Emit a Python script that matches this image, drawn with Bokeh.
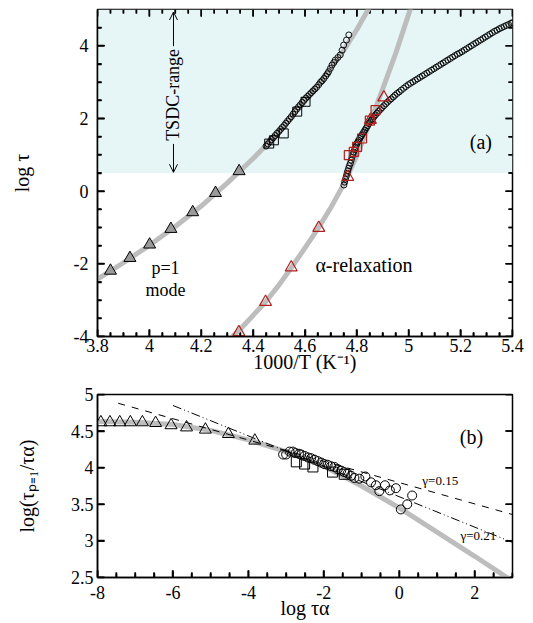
from math import pi
from bokeh.plotting import figure
from bokeh.layouts import column
from bokeh.models import Range1d, FixedTicker, BoxAnnotation, Label
from bokeh.embed import file_html
from bokeh.resources import INLINE

FONT = "Liberation Serif"

# ---------------- Panel (a) data ----------------
tsdc_range = [0.5, 5.0]
tsdc_arrow_x = 4.093
tsdc_arrow_up = [3.99, 4.93]     # shaft start, tip
tsdc_arrow_down = [1.30, 0.52]   # shaft start, tip

p1_fit_x = [3.80, 3.90, 4.00, 4.10, 4.20, 4.30, 4.40, 4.50, 4.60, 4.70, 4.75, 4.80, 4.85]
p1_fit_y = [-2.42, -1.97, -1.49, -0.97, -0.41, 0.22, 0.90, 1.63, 2.47, 3.38, 3.88, 4.45, 5.08]

p1_tri_x = [3.850, 3.925, 4.001, 4.083, 4.167, 4.255, 4.346]
p1_tri_y = [-2.19, -1.84, -1.47, -1.04, -0.58, -0.05, 0.55]

p1_sq_x = [4.462, 4.480, 4.518, 4.570, 4.602]
p1_sq_y = [1.31, 1.40, 1.59, 2.19, 2.46]

p1_circ_x = [4.450, 4.457, 4.464, 4.471, 4.478, 4.485, 4.492, 4.499, 4.506, 4.513,
             4.520, 4.526, 4.533, 4.540, 4.547, 4.554, 4.561, 4.568, 4.575, 4.582,
             4.589, 4.596, 4.603, 4.610, 4.617, 4.624, 4.631, 4.638, 4.645, 4.653,
             4.660, 4.666, 4.673, 4.680, 4.686, 4.691, 4.698, 4.704, 4.711, 4.717,
             4.727, 4.736, 4.743, 4.749, 4.760, 4.769]
p1_circ_y = [1.24, 1.30, 1.36, 1.42, 1.47, 1.53, 1.59, 1.64, 1.70, 1.76,
             1.81, 1.87, 1.93, 1.99, 2.05, 2.12, 2.19, 2.26, 2.32, 2.38,
             2.44, 2.50, 2.56, 2.61, 2.66, 2.71, 2.76, 2.81, 2.86, 2.93,
             3.00, 3.04, 3.10, 3.17, 3.23, 3.29, 3.38, 3.47, 3.54, 3.61,
             3.68, 3.75, 3.88, 4.02, 4.16, 4.30]

alpha_fit_x = [4.32, 4.35, 4.40, 4.45, 4.50, 4.55, 4.60, 4.65, 4.70, 4.75, 4.80,
               4.85, 4.90, 4.95, 5.00, 5.02]
alpha_fit_y = [-4.00, -3.80, -3.42, -3.03, -2.58, -2.08, -1.56, -1.03, -0.45, 0.20, 0.98,
               1.88, 2.82, 3.80, 4.88, 5.30]

alpha_tri_x = [4.345, 4.448, 4.547, 4.653, 4.765, 4.852, 4.904]
alpha_tri_y = [-3.88, -3.05, -2.10, -1.01, 0.39, 1.96, 2.58]

alpha_sq_x = [4.769, 4.788, 4.801, 4.820, 4.850, 4.872]
alpha_sq_y = [0.99, 1.08, 1.22, 1.45, 1.94, 2.23]

alpha_circ_x = [4.750, 4.753, 4.756, 4.759, 4.762, 4.765, 4.768, 4.771, 4.775, 4.778,
                4.781, 4.785, 4.788, 4.791, 4.794, 4.798, 4.801, 4.804, 4.807, 4.811,
                4.814, 4.818, 4.822, 4.827, 4.831, 4.836, 4.841, 4.846, 4.851, 4.856,
                4.861, 4.866, 4.872, 4.878, 4.884, 4.891, 4.897, 4.904, 4.911, 4.918,
                4.925, 4.932, 4.940, 4.947, 4.955, 4.963, 4.971, 4.980, 4.989, 4.998,
                5.007, 5.016, 5.025, 5.034, 5.043, 5.052, 5.061, 5.070, 5.079, 5.088,
                5.097, 5.106, 5.115, 5.124, 5.133, 5.142, 5.151, 5.160, 5.169, 5.178,
                5.187, 5.196, 5.205, 5.214, 5.223, 5.232, 5.241, 5.250, 5.259, 5.268,
                5.277, 5.286, 5.295, 5.304, 5.313, 5.322, 5.331, 5.340, 5.349, 5.358,
                5.367, 5.376, 5.385, 5.394, 5.400]
alpha_circ_y = [0.17, 0.25, 0.33, 0.41, 0.49, 0.56, 0.63, 0.70, 0.77, 0.85,
                0.93, 1.01, 1.08, 1.14, 1.20, 1.27, 1.32, 1.36, 1.40, 1.45,
                1.49, 1.53, 1.58, 1.63, 1.68, 1.74, 1.80, 1.86, 1.91, 1.96,
                2.00, 2.05, 2.10, 2.15, 2.20, 2.25, 2.30, 2.35, 2.40, 2.45,
                2.50, 2.54, 2.59, 2.64, 2.69, 2.73, 2.78, 2.83, 2.88, 2.93,
                2.97, 3.01, 3.05, 3.09, 3.13, 3.17, 3.21, 3.25, 3.29, 3.33,
                3.37, 3.41, 3.45, 3.49, 3.53, 3.57, 3.61, 3.65, 3.69, 3.73,
                3.77, 3.80, 3.84, 3.88, 3.92, 3.96, 4.00, 4.04, 4.08, 4.12,
                4.16, 4.20, 4.24, 4.28, 4.32, 4.36, 4.40, 4.43, 4.47, 4.50,
                4.53, 4.56, 4.59, 4.62, 4.64]

xa_major = [3.8, 4.0, 4.2, 4.4, 4.6, 4.8, 5.0, 5.2, 5.4]
xa_labels = ["3.8", "4", "4.2", "4.4", "4.6", "4.8", "5", "5.2", "5.4"]
xa_minor = [3.85, 3.9, 3.95, 4.05, 4.1, 4.15, 4.25, 4.3, 4.35, 4.45, 4.5, 4.55,
            4.65, 4.7, 4.75, 4.85, 4.9, 4.95, 5.05, 5.1, 5.15, 5.25, 5.3, 5.35]
ya_major = [-4, -2, 0, 2, 4]
ya_labels = ["-4", "-2", "0", "2", "4"]
ya_minor = [-3.5, -3, -2.5, -1.5, -1, -0.5, 0.5, 1, 1.5, 2.5, 3, 3.5, 4.5]

# ---------------- Panel (b) data ----------------
b_fit_x = [-8, -7, -6, -5, -4, -3, -2, -1, 0, 1, 2, 3]
b_fit_y = [4.63, 4.62, 4.59, 4.51, 4.38, 4.22, 4.02, 3.75, 3.45, 3.12, 2.79, 2.45]

b_tri_x = [-7.91, -7.67, -7.41, -7.13, -6.81, -6.46, -6.05, -5.64, -5.14, -4.53, -3.83]
b_tri_y = [4.62, 4.62, 4.62, 4.62, 4.62, 4.61, 4.58, 4.55, 4.52, 4.46, 4.37]

b_sq_x = [-2.73, -2.51, -2.29, -1.77, -1.46]
b_sq_y = [4.08, 4.05, 4.01, 3.94, 3.91]

b_circ_x = [-3.08, -3.00, -2.91, -2.82, -2.75, -2.66, -2.60, -2.51, -2.42, -2.34,
            -2.25, -2.16, -2.07, -1.99, -1.90, -1.81, -1.72, -1.63, -1.54, -1.46,
            -1.37, -1.28, -1.19, -1.06, -0.90, -0.75, -0.62, -0.53, -0.38, -0.25,
            -0.09, 0.04, 0.21, 0.34]
b_circ_y = [4.18, 4.18, 4.22, 4.22, 4.20, 4.19, 4.18, 4.16, 4.14, 4.13,
            4.11, 4.09, 4.07, 4.05, 4.04, 4.02, 4.01, 3.98, 3.96, 3.94,
            3.92, 3.89, 3.86, 3.85, 3.88, 3.80, 3.76, 3.68, 3.76, 3.69,
            3.72, 3.43, 3.50, 3.62]

g015_x = [-7.45, 3.0]
g015_y = [4.88, 3.36]
g021_x = [-6.0, 3.0]
g021_y = [4.85, 2.98]

xb_major = [-8, -6, -4, -2, 0, 2]
xb_labels = ["-8", "-6", "-4", "-2", "0", "2"]
xb_minor = [-7.5, -7, -6.5, -5.5, -5, -4.5, -3.5, -3, -2.5, -1.5, -1, -0.5,
            0.5, 1, 1.5, 2.5, 3]
yb_major = [2.5, 3.0, 3.5, 4.0, 4.5, 5.0]
yb_labels = ["2.5", "3", "3.5", "4", "4.5", "5"]

GRAY = "#bdbdbd"
RED = "#b0201c"
TICK_W = 1.5


def style_axis(ax, ticks, minor, labels, standoff, label, label_standoff):
    ax.ticker = FixedTicker(ticks=ticks, minor_ticks=minor)
    ax.major_label_overrides = dict(zip(ticks, labels))
    ax.axis_line_width = 1.5
    ax.axis_line_color = "black"
    ax.major_tick_in = 7
    ax.major_tick_out = 0
    ax.minor_tick_in = 4
    ax.minor_tick_out = 0
    ax.major_tick_line_color = "black"
    ax.minor_tick_line_color = "black"
    ax.major_tick_line_width = TICK_W
    ax.minor_tick_line_width = TICK_W
    ax.major_label_text_font = FONT
    ax.major_label_text_color = "black"
    ax.major_label_text_font_size = "18px"
    ax.major_label_standoff = standoff
    ax.axis_label = label
    ax.axis_label_text_font = FONT
    ax.axis_label_text_font_style = "normal"
    ax.axis_label_text_font_size = "20px"
    ax.axis_label_text_color = "black"
    ax.axis_label_standoff = label_standoff


def vticks(p, xs, y_edge, length_px, py):
    # inward tick marks on a horizontal frame edge (y_edge), drawn as segments
    # and as vertical dash markers centred half a tick inside the edge
    sign = 1 if y_edge == p.y_range.start else -1
    dy = sign * length_px * py
    p.segment(x0=xs, y0=[y_edge] * len(xs), x1=xs, y1=[y_edge + dy] * len(xs),
              line_color="black", line_width=TICK_W)
    p.scatter(x=xs, y=[y_edge + dy / 2] * len(xs), marker="dash", size=length_px,
              angle=pi / 2, line_color="black", line_width=TICK_W)


def hticks(p, ys, x_edge, length_px, px):
    # inward tick marks on a vertical frame edge (x_edge)
    sign = 1 if x_edge == p.x_range.start else -1
    dx = sign * length_px * px
    p.segment(x0=[x_edge] * len(ys), y0=ys, x1=[x_edge + dx] * len(ys), y1=ys,
              line_color="black", line_width=TICK_W)
    p.scatter(x=[x_edge + dx / 2] * len(ys), y=ys, marker="dash", size=length_px,
              line_color="black", line_width=TICK_W)


def lab(p, x, y, text, size="20px", align="center", baseline="middle", angle=0.0):
    p.add_layout(Label(x=x, y=y, text=text, text_font=FONT, text_font_size=size,
                       text_align=align, text_baseline=baseline, angle=angle,
                       text_color="black"))


# ---------------- Figure (a) ----------------
xa0, xa1, ya0, ya1 = 3.8, 5.4, -4, 5
pa = figure(width=533, height=380, x_range=Range1d(xa0, xa1), y_range=Range1d(ya0, ya1),
            output_backend="svg", toolbar_location=None,
            min_border_left=97, min_border_right=21, min_border_top=9, min_border_bottom=44)
pa.grid.visible = False
pa.outline_line_color = "black"
pa.outline_line_width = 1.5
style_axis(pa.xaxis[0], xa_major, xa_minor, xa_labels, 2, "1000/T (K⁻¹)", -4)
style_axis(pa.yaxis[0], ya_major, ya_minor, ya_labels, 9, "log τ", 38)

pa.add_layout(BoxAnnotation(bottom=tsdc_range[0], top=tsdc_range[1], fill_color="#e6f6f6",
                            fill_alpha=1.0, line_color=None, level="underlay"))

# tick marks on all four edges; frame is 415 x 327 px
pxa = (xa1 - xa0) / 415.0
pya = (ya1 - ya0) / 327.0
vticks(pa, xa_major, ya0, 7, pya)
vticks(pa, xa_minor, ya0, 4, pya)
vticks(pa, xa_major, ya1, 7, pya)
vticks(pa, xa_minor, ya1, 4, pya)
hticks(pa, ya_major, xa0, 7, pxa)
hticks(pa, ya_minor, xa0, 4, pxa)
hticks(pa, ya_major, xa1, 7, pxa)
hticks(pa, ya_minor, xa1, 4, pxa)

pa.line(p1_fit_x, p1_fit_y, line_color=GRAY, line_width=5)
pa.line(alpha_fit_x, alpha_fit_y, line_color=GRAY, line_width=5)

pa.scatter(p1_circ_x, p1_circ_y, marker="circle", size=6, fill_color=None,
           line_color="black", line_width=0.9)
pa.scatter(alpha_circ_x, alpha_circ_y, marker="circle", size=6, fill_color=None,
           line_color="black", line_width=0.9)
pa.scatter(p1_sq_x, p1_sq_y, marker="square", size=9, fill_color=None,
           line_color="black", line_width=1)
pa.scatter(p1_tri_x, p1_tri_y, marker="triangle", size=12, fill_color="#9a9a9a",
           line_color="black", line_width=1)
pa.scatter(alpha_sq_x, alpha_sq_y, marker="square", size=9, fill_color=None,
           line_color=RED, line_width=1.2)
pa.scatter(alpha_tri_x, alpha_tri_y, marker="triangle", size=12, fill_color=None,
           line_color=RED, line_width=1.2)

# TSDC range double arrow (shafts and open heads as line segments)
hx, hy = 4 * pxa, 8 * pya
ax_ = tsdc_arrow_x
up0, up1 = tsdc_arrow_up
dn0, dn1 = tsdc_arrow_down
pa.segment(x0=[ax_, ax_, ax_, ax_, ax_, ax_],
           y0=[up0, up1, up1, dn0, dn1, dn1],
           x1=[ax_, ax_ - hx, ax_ + hx, ax_, ax_ - hx, ax_ + hx],
           y1=[up1, up1 - hy, up1 - hy, dn1, dn1 + hy, dn1 + hy],
           line_color="black", line_width=1)
lab(pa, ax_, 2.65, "TSDC-range", size="18px", angle=pi / 2)
lab(pa, 4.062, -2.12, "p=1", size="18px")
lab(pa, 4.062, -2.73, "mode", size="18px")
lab(pa, 4.640, -2.04, "α-relaxation", size="20px", align="left")
lab(pa, 5.278, 1.36, "(a)", size="20px")

# ---------------- Figure (b) ----------------
xb0, xb1, yb0, yb1 = -8, 3, 2.5, 5
pb = figure(width=533, height=243, x_range=Range1d(xb0, xb1), y_range=Range1d(yb0, yb1),
            output_backend="svg", toolbar_location=None,
            min_border_left=97, min_border_right=19, min_border_top=14, min_border_bottom=46)
pb.grid.visible = False
pb.outline_line_color = "black"
pb.outline_line_width = 1.5
style_axis(pb.xaxis[0], xb_major, xb_minor, xb_labels, 8, "log τα", -5)
style_axis(pb.yaxis[0], yb_major, [], yb_labels, 4, "log(τₚ₌₁/τα)", 30)

# tick marks; frame is 417 x 183 px
pxb = (xb1 - xb0) / 417.0
pyb = (yb1 - yb0) / 183.0
vticks(pb, xb_major, yb0, 7, pyb)
vticks(pb, xb_minor, yb0, 5, pyb)
hticks(pb, yb_major, xb0, 7, pxb)
hticks(pb, yb_major, xb1, 7, pxb)

pb.line(b_fit_x, b_fit_y, line_color=GRAY, line_width=5)
pb.line(g015_x, g015_y, line_color="black", line_width=1, line_dash="7 7")
pb.line(g021_x, g021_y, line_color="black", line_width=1, line_dash="9 3 1 3 1 3")

pb.scatter(b_circ_x, b_circ_y, marker="circle", size=9, fill_color=None,
           line_color="black", line_width=1)
pb.scatter(b_sq_x, b_sq_y, marker="square", size=10, fill_color=None,
           line_color="black", line_width=1)
pb.scatter(b_tri_x, b_tri_y, marker="triangle", size=12, fill_color=None,
           line_color="black", line_width=1)

lab(pb, 1.91, 4.42, "(b)", size="20px")
lab(pb, 0.61, 3.83, "γ=0.15", size="13px", align="left")
lab(pb, 1.62, 3.07, "γ=0.21", size="13px", align="left")

layout = column(pa, pb)
open("out.html", "w").write(file_html(layout, INLINE))
